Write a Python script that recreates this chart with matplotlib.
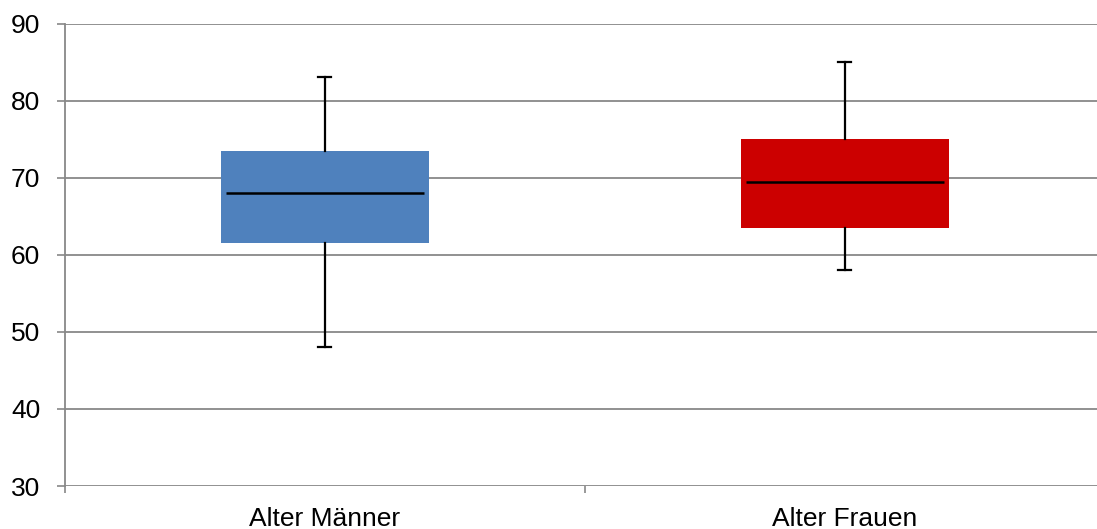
import matplotlib
matplotlib.use('Agg')
import matplotlib.pyplot as plt

# Box statistics
labels = ['Alter Männer', 'Alter Frauen']
whislo = [48, 58]
q1 = [61.5, 63.5]
med = [68, 69.5]
q3 = [73.5, 75]
whishi = [83, 85]
colors = ['#4F81BD', '#CC0000']

plt.rcParams['font.family'] = ['Liberation Sans', 'DejaVu Sans']

fig = plt.figure(figsize=(10.97, 5.29), dpi=100)
ax = fig.add_axes([65 / 1097, 43 / 529, 1032 / 1097, 462.5 / 529])

stats = []
for i in range(len(labels)):
    stats.append({'whislo': whislo[i], 'q1': q1[i], 'med': med[i],
                  'q3': q3[i], 'whishi': whishi[i], 'label': labels[i]})

positions = [1, 2]
bp = ax.bxp(stats, positions=positions, widths=0.4, patch_artist=True,
            showfliers=False, showcaps=True,
            boxprops=dict(linewidth=0),
            whiskerprops=dict(color='black', linewidth=1.6),
            capprops=dict(color='black', linewidth=1.6),
            medianprops=dict(linewidth=0),
            capwidths=0.025, zorder=3)
for patch, c in zip(bp['boxes'], colors):
    patch.set_facecolor(c)
    patch.set_edgecolor(c)

# median lines are slightly shorter than the box
for p, m in zip(positions, med):
    ax.hlines(m, p - 0.19, p + 0.19, color='black', linewidth=1.8, zorder=4)

ax.set_yticks(range(30, 91, 10))

ax.set_xticks([0.5, 1.5])
ax.set_xticklabels([])
ax.set_xticks(positions, minor=True)
ax.set_xticklabels(labels, minor=True)
ax.tick_params(axis='x', which='minor', length=0, pad=15, labelsize=19)
ax.tick_params(axis='x', which='major', length=5, color='#888888', width=1.2)
ax.tick_params(axis='y', length=5.8, color='#888888', width=1.2, pad=12, labelsize=19)

ax.set_ylim(30, 90)
ax.set_xlim(0.5, 2.485)

ax.grid(axis='y', color='#888888', linewidth=1.3, zorder=0)
ax.set_axisbelow(True)
for s in ['top', 'right', 'bottom']:
    ax.spines[s].set_visible(False)
ax.spines['left'].set_color('#888888')
ax.spines['left'].set_linewidth(1.3)

fig.savefig('out.png', dpi=100)
